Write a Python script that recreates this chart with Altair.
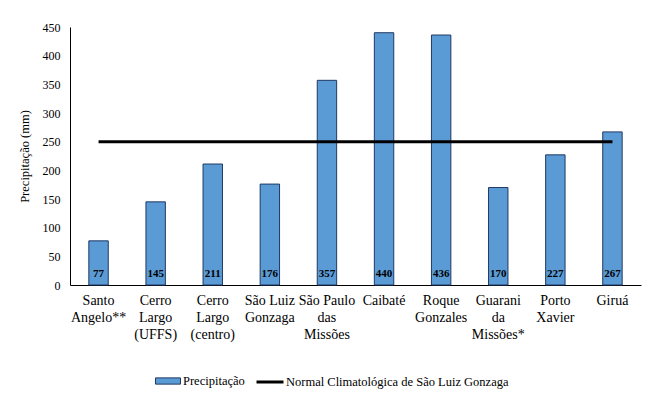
import altair as alt
import pandas as pd

categories = ["Santo|Angelo**", "Cerro|Largo|(UFFS)", "Cerro|Largo|(centro)", "São Luiz|Gonzaga",
              "São Paulo|das|Missões", "Caibaté", "Roque|Gonzales", "Guarani|da|Missões*",
              "Porto|Xavier", "Giruá"]
precip = [77, 145, 211, 176, 357, 440, 436, 170, 227, 267]
y_ticks = [0, 50, 100, 150, 200, 250, 300, 350, 400, 450]
normal_value = 250
bar_series = "Precipitação"
line_series = "Normal Climatológica de São Luiz Gonzaga"

FONT = "Times New Roman"

df = pd.DataFrame({"cat": categories, "val": precip, "series": bar_series})
line_df = pd.DataFrame({"x": [categories[0]], "x2": [categories[-1]], "y": [normal_value], "series": [line_series]})

xscale = alt.Scale(domain=categories, paddingInner=0.66, paddingOuter=0.33)
yscale = alt.Scale(domain=[0, 450])

xaxis = alt.Axis(labelExpr="split(datum.label, '|')", labelAngle=0, labelFont=FONT,
                 labelFontSize=14, labelLineHeight=17, labelPadding=8,
                 labelBaseline="top", labelOverlap=False, labelLimit=200, title=None)
yaxis = alt.Axis(values=y_ticks, labelFont=FONT, labelFontSize=12, labelPadding=10, labelOverlap=False,
                 title="Precipitação  (mm)", titleFont=FONT, titleFontSize=12.5, titlePadding=11)

bars = alt.Chart(df).mark_bar(stroke="#1F3864", strokeWidth=1).encode(
    x=alt.X("cat:N", scale=xscale, sort=categories, axis=xaxis),
    y=alt.Y("val:Q", scale=yscale, axis=yaxis),
    color=alt.Color("series:N", scale=alt.Scale(domain=[bar_series], range=["#5B9BD5"]),
                    legend=alt.Legend(orient="none", legendX=85, legendY=341, title=None,
                                      labelFont=FONT, labelOffset=2,
                                      symbolType="M-1,-0.25H1V0.25H-1Z", symbolSize=625,
                                      symbolStrokeColor="#1F3864", symbolStrokeWidth=1)),
)

labels = alt.Chart(df).mark_text(baseline="bottom", dy=-6, fontSize=11, font=FONT,
                                 fontWeight="bold", color="black").encode(
    x=alt.X("cat:N", scale=xscale, sort=categories, axis=xaxis),
    y=alt.datum(0, axis=yaxis),
    text="val:Q",
)

rule = alt.Chart(line_df).mark_rule(strokeWidth=3).encode(
    x=alt.X("x:N", scale=xscale, sort=categories, axis=xaxis),
    x2="x2:N",
    y=alt.Y("y:Q", scale=yscale, axis=yaxis),
    stroke=alt.Stroke("series:N", scale=alt.Scale(domain=[line_series], range=["black"]),
                      legend=alt.Legend(orient="none", legendX=185, legendY=340, title=None,
                                        labelFont=FONT, labelOffset=1,
                                        symbolType="stroke", symbolStrokeWidth=3, symbolSize=729)),
)

chart = alt.layer(bars, labels, rule).resolve_scale(color="independent").properties(
    width=571, height=258,
    autosize=alt.AutoSizeParams(type="none"),
    padding={"left": 62, "top": 19, "right": 4, "bottom": 105},
).configure(background="white", font=FONT).configure_view(stroke=None).configure_axis(
    ticks=False, grid=False, domainColor="black", labelFont=FONT, labelColor="black",
    titleFont=FONT, titleColor="black", titleFontWeight="normal"
).configure_legend(
    labelFont=FONT, labelFontSize=12.5, labelColor="black", labelLimit=400
).configure_text(font=FONT)

chart.save("out.html", embed_options={"renderer": "svg", "actions": False})
